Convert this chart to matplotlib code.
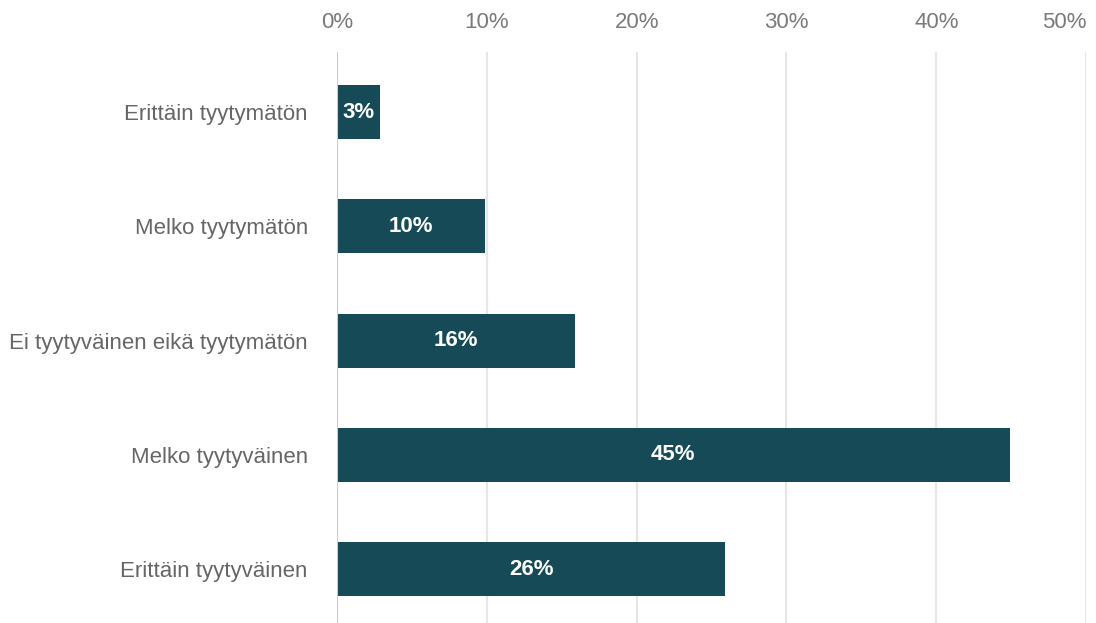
import numpy as np
import matplotlib.pyplot as plt

# survey answers, top to bottom
categories = [
    "Erittäin tyytymätön",
    "Melko tyytymätön",
    "Ei tyytyväinen eikä tyytymätön",
    "Melko tyytyväinen",
    "Erittäin tyytyväinen",
]
shares = [2.9, 9.9, 15.9, 44.9, 25.9]
share_labels = ["3%", "10%", "16%", "45%", "26%"]
x_ticks = [0, 10, 20, 30, 40, 50]

plt.rcParams["font.family"] = ["Liberation Sans", "DejaVu Sans"]

fig = plt.figure(figsize=(10.96, 6.23), dpi=100)
ax = fig.add_axes([0.3075, 0.0, 0.6835, 0.9165])

y = np.arange(len(categories))
bars = ax.barh(y, shares, height=0.47, color="#164a57")

for rect, lab in zip(bars, share_labels):
    ax.text(rect.get_x() + rect.get_width() / 2, rect.get_y() + rect.get_height() / 2,
            lab, ha="center", va="center", color="white",
            fontsize=16, fontweight="bold")

ax.set_xlim(0, 50)
ax.set_ylim(len(categories) - 0.53, -0.525)
ax.set_xticks(x_ticks)
ax.set_xticklabels([f"{t}%" for t in x_ticks])
ax.set_yticks(y)
ax.set_yticklabels(categories)

ax.xaxis.tick_top()
ax.tick_params(axis="x", length=0, pad=14, labelsize=16, labelcolor="#7a7a7a")
ax.tick_params(axis="y", length=0, pad=21, labelsize=16, labelcolor="#666666")
# last label kept inside the figure
ax.get_xticklabels()[-1].set_horizontalalignment("right")

for s in ax.spines.values():
    s.set_visible(False)
ax.set_axisbelow(True)
ax.grid(axis="x", color="#e6e6e6", linewidth=1.5)
ax.axvline(0, color="#c5cae9", linewidth=1.5)

fig.savefig("out.png", dpi=100)
